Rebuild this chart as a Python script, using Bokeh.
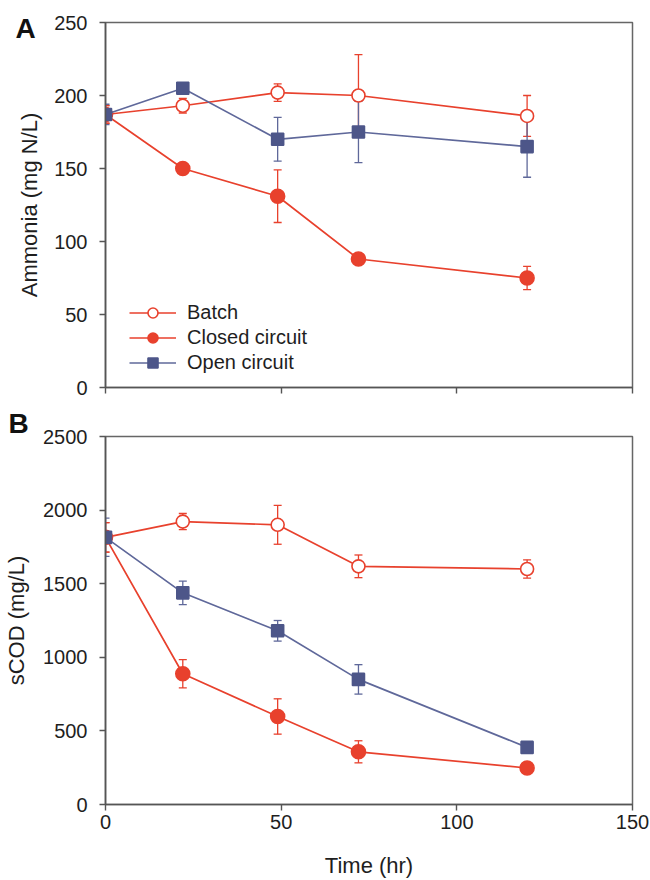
from bokeh.plotting import figure
from bokeh.models import (ColumnDataSource, Whisker, TeeHead, Legend, LegendItem,
                          FixedTicker)
from bokeh.layouts import column
from bokeh.embed import file_html
from bokeh.resources import INLINE

# ---------------- data ----------------
time_hr = [0, 22, 49, 72, 120]

ammonia_batch = [187, 193, 202, 200, 186]
ammonia_batch_err = [6, 5, 6, 28, 14]
ammonia_closed = [187, 150, 131, 88, 75]
ammonia_closed_err = [6, 3, 18, 3, 8]
ammonia_open = [187, 205, 170, 175, 165]
ammonia_open_err = [7, 3, 15, 21, 21]

scod_batch = [1815, 1922, 1900, 1618, 1600]
scod_batch_err = [100, 55, 132, 77, 62]
scod_closed = [1815, 888, 598, 358, 248]
scod_closed_err = [100, 96, 120, 75, 15]
scod_open = [1815, 1438, 1180, 850, 388]
scod_open_err = [130, 80, 70, 100, 15]

series_names = ["Batch", "Closed circuit", "Open circuit"]
panel_letters = ["A", "B"]
x_ticks = [0, 50, 100, 150]
ammonia_ticks = [0, 50, 100, 150, 200, 250]
scod_ticks = [0, 500, 1000, 1500, 2000, 2500]

RED = "#e8412d"
NAVY = "#4d5689"
NAVY_LINE = "#5f689a"
FONT = "Liberation Sans"
TXT = "#1e1e1e"


def style(p, yticks, show_xlabels, label_standoff):
    p.xaxis.ticker = FixedTicker(ticks=x_ticks)
    p.yaxis.ticker = FixedTicker(ticks=yticks)
    p.xgrid.visible = False
    p.ygrid.visible = False
    for ax in (p.xaxis[0], p.yaxis[0]):
        ax.axis_line_color = "#555555"
        ax.axis_line_width = 1.6
        ax.major_tick_line_color = "#555555"
        ax.major_tick_line_width = 1.4
        ax.major_tick_in = 0
        ax.major_tick_out = 6
        ax.minor_tick_line_color = None
        ax.major_label_text_font = FONT
        ax.major_label_text_font_size = "20px"
        ax.major_label_text_color = TXT
        ax.axis_label_text_font = FONT
        ax.axis_label_text_font_size = "22px"
        ax.axis_label_text_font_style = "normal"
        ax.axis_label_text_color = TXT
    p.yaxis.major_label_standoff = 12
    p.xaxis.major_label_standoff = 4
    p.yaxis.axis_label_standoff = label_standoff
    if not show_xlabels:
        p.xaxis.major_label_text_color = None
    p.outline_line_color = "#666666"
    p.outline_line_width = 1.5
    p.background_fill_color = "white"
    p.border_fill_color = "white"


def style_title(p, letter, offset, standoff):
    p.title.text = letter
    p.title.align = "left"
    p.title.offset = offset
    p.title.standoff = standoff
    p.title.text_font = FONT
    p.title.text_font_size = "28px"
    p.title.text_font_style = "bold"
    p.title.text_color = "#111111"


def add_series(p, y, err, color, line_color, marker, fill, size):
    src = ColumnDataSource(dict(x=time_hr, y=y,
                                lo=[a - b for a, b in zip(y, err)],
                                hi=[a + b for a, b in zip(y, err)]))
    w = Whisker(source=src, base="x", upper="hi", lower="lo",
                line_color=line_color, line_width=1.3,
                upper_head=TeeHead(size=8, line_color=line_color, line_width=1.3),
                lower_head=TeeHead(size=8, line_color=line_color, line_width=1.3))
    p.add_layout(w)
    ln = p.line("x", "y", source=src, line_color=line_color, line_width=1.7)
    sc = p.scatter("x", "y", source=src, marker=marker, size=size,
                   fill_color=fill, line_color=color, line_width=1.6)
    return ln, sc


# ---------------- panel A ----------------
pa = figure(width=650, height=405, x_range=(0, 150), y_range=(0, 250),
            output_backend="svg", toolbar_location=None, title=panel_letters[0],
            min_border_left=102, min_border_right=18,
            min_border_top=22, min_border_bottom=18)
style(pa, ammonia_ticks, False, 9)
style_title(pa, panel_letters[0], -90, -42)
pa.yaxis.axis_label = "Ammonia (mg N/L)"

b_ln, b_sc = add_series(pa, ammonia_batch, ammonia_batch_err, RED, RED, "circle", "white", 13)
c_ln, c_sc = add_series(pa, ammonia_closed, ammonia_closed_err, RED, RED, "circle", RED, 14)
o_ln, o_sc = add_series(pa, ammonia_open, ammonia_open_err, NAVY, NAVY_LINE, "square", NAVY, 12)

legend = Legend(items=[LegendItem(label=series_names[0], renderers=[b_ln, b_sc]),
                       LegendItem(label=series_names[1], renderers=[c_ln, c_sc]),
                       LegendItem(label=series_names[2], renderers=[o_ln, o_sc])],
                location=(24, 12), orientation="vertical",
                background_fill_alpha=0, border_line_color=None,
                padding=0, margin=0, spacing=0,
                glyph_width=47, glyph_height=25, label_height=25,
                label_standoff=11, label_text_font=FONT,
                label_text_font_size="20px", label_text_color=TXT)
pa.add_layout(legend)

# ---------------- panel B ----------------
pb = figure(width=650, height=475, x_range=(0, 150), y_range=(0, 2500),
            output_backend="svg", toolbar_location=None, title=panel_letters[1],
            min_border_left=105, min_border_right=18,
            min_border_top=31, min_border_bottom=76)
style(pb, scod_ticks, True, 11)
style_title(pb, panel_letters[1], -97, -4)
pb.yaxis.axis_label = "sCOD (mg/L)"
pb.xaxis.axis_label = "Time (hr)"
pb.xaxis.axis_label_standoff = 21

add_series(pb, scod_batch, scod_batch_err, RED, RED, "circle", "white", 13)
add_series(pb, scod_closed, scod_closed_err, RED, RED, "circle", RED, 14)
add_series(pb, scod_open, scod_open_err, NAVY, NAVY_LINE, "square", NAVY, 12)

layout = column(pa, pb, spacing=0)
open("out.html", "w").write(file_html(layout, INLINE))
